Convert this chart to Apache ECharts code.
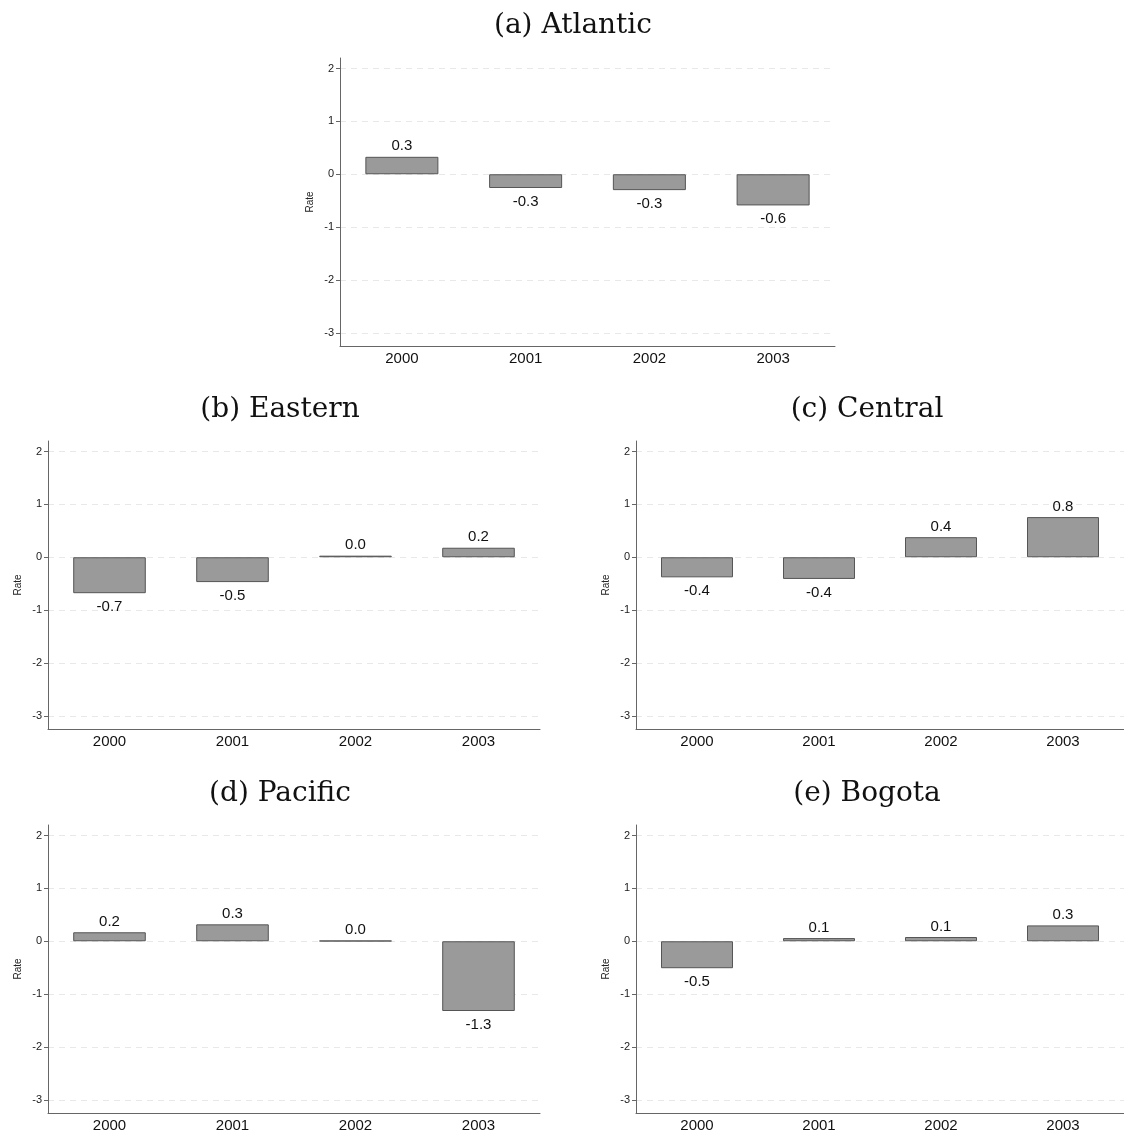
<!DOCTYPE html>
<html>
<head>
<meta charset="utf-8">
<script src="https://cdn.jsdelivr.net/npm/echarts@6/dist/echarts.min.js"></script>
<style>
html,body{margin:0;padding:0;background:#fff;}
#chart{width:1124px;height:1135px;}
</style>
</head>
<body>
<div id="chart"></div>
<script>
const years = ['2000', '2001', '2002', '2003'];
const yTicks = [-3, -2, -1, 0, 1, 2];
const panelTitles = ['(a) Atlantic', '(b) Eastern', '(c) Central', '(d) Pacific', '(e) Bogota'];
const atlantic = [0.33, -0.26, -0.30, -0.59];
const eastern = [-0.68, -0.47, 0.03, 0.18];
const central = [-0.38, -0.41, 0.38, 0.76];
const pacific = [0.17, 0.32, 0.01, -1.32];
const bogota = [-0.51, 0.06, 0.08, 0.30];
const yMin = -3.25, yMax = 2.2;

const panelData = [atlantic, eastern, central, pacific, bogota];
const grids = [
  {left: 340, top: 58, width: 495, height: 288},
  {left: 48, top: 441, width: 492, height: 288},
  {left: 636, top: 441, width: 491, height: 288},
  {left: 48, top: 825, width: 492, height: 288},
  {left: 636, top: 825, width: 491, height: 288}
];
const titlePos = [
  {x: 568, y: 7}, {x: 275, y: 391}, {x: 862, y: 391}, {x: 275, y: 775}, {x: 862, y: 775}
];

const chart = echarts.init(document.getElementById('chart'), null, {renderer: 'canvas'});
const option = {
  backgroundColor: '#fff',
  animation: false,
  title: panelTitles.map((t, i) => ({
    text: t, left: titlePos[i].x, top: titlePos[i].y, textAlign: 'center',
    textStyle: {fontFamily: 'DejaVu Serif', fontWeight: 'normal', fontSize: 28, color: '#111'}
  })),
  grid: grids.map(g => Object.assign({containLabel: false}, g)),
  xAxis: grids.map((g, i) => ({
    type: 'category', gridIndex: i, data: years,
    axisLine: {show: true, onZero: false, lineStyle: {color: '#666', width: 1}},
    axisTick: {show: false},
    axisLabel: {fontFamily: 'Liberation Sans', fontSize: 15, color: '#111', margin: 5},
    splitLine: {show: false}
  })),
  yAxis: grids.map((g, i) => ({
    type: 'value', gridIndex: i, min: yMin, max: yMax,
    name: 'Rate', nameLocation: 'middle', nameGap: 25, nameRotate: 90,
    nameTextStyle: {fontFamily: 'Liberation Sans', fontSize: 10, color: '#222'},
    axisLine: {show: true, lineStyle: {color: '#666', width: 1}},
    axisTick: {show: true, length: 4, customValues: yTicks, lineStyle: {color: '#666'}},
    axisLabel: {customValues: yTicks, fontFamily: 'Liberation Sans', fontSize: 11, color: '#222', margin: 6,
      formatter: v => String(v)},
    splitLine: {show: true, lineStyle: {type: [6, 5], color: '#e8e8e8', width: 1}}
  })),
  series: panelData.map((arr, i) => ({
    type: 'bar', xAxisIndex: i, yAxisIndex: i, barWidth: '59%',
    data: arr.map(v => ({
      value: v,
      label: {show: true, position: v >= 0 ? 'top' : 'bottom', distance: v >= 0 ? 3 : 6,
        formatter: p => p.value.toFixed(1),
        fontFamily: 'Liberation Sans', fontSize: 15, color: '#111'}
    })),
    itemStyle: {color: '#9a9a9a', borderColor: '#555', borderWidth: 1}
  }))
};
chart.setOption(option);
</script>
</body>
</html>
